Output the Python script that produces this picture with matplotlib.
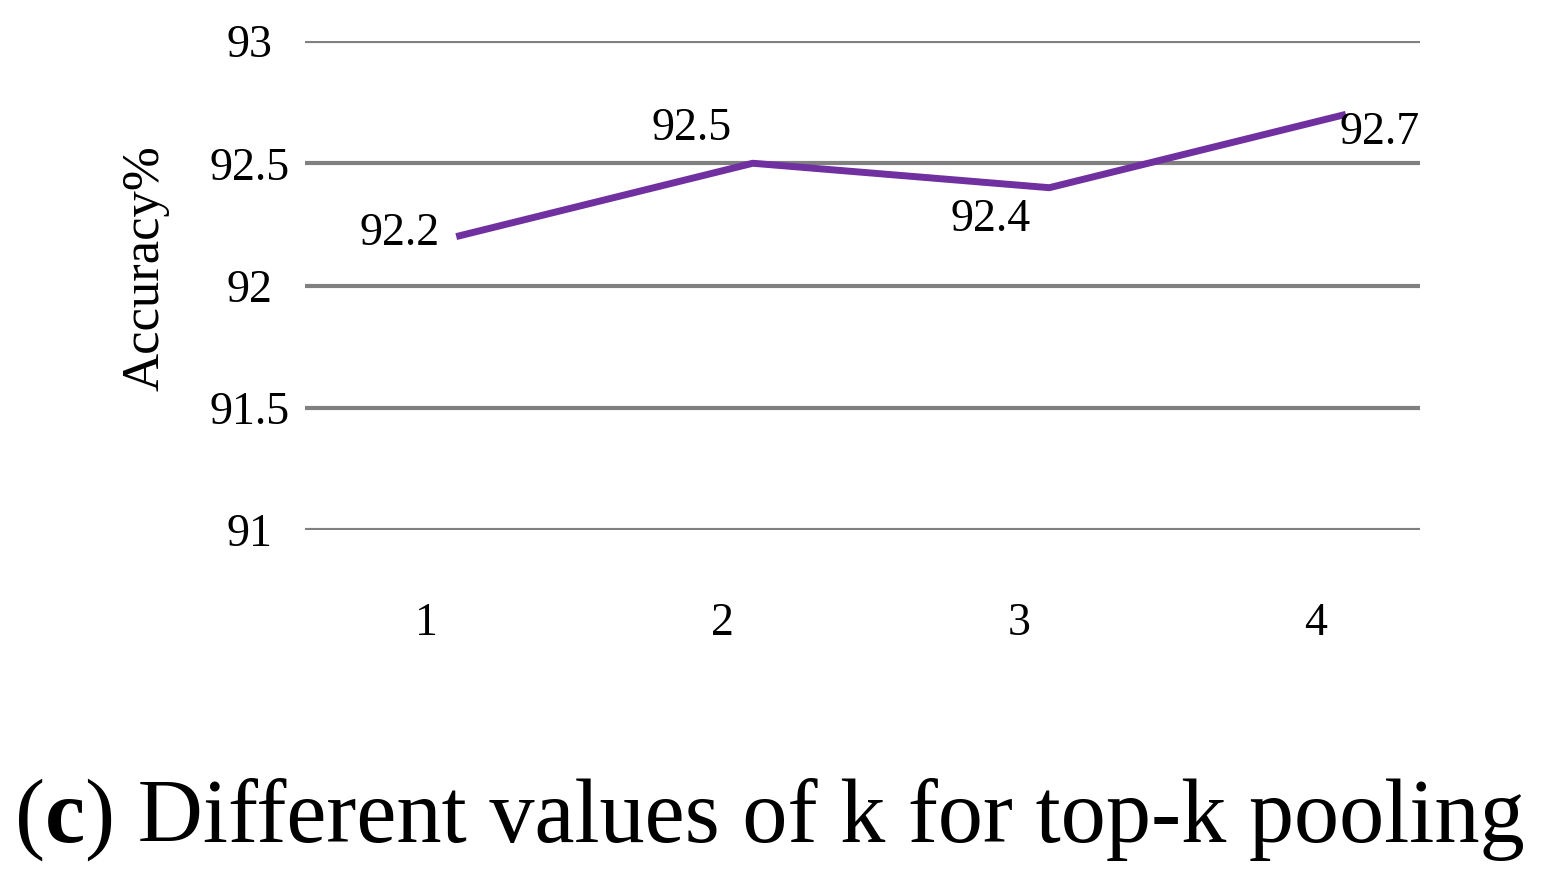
import matplotlib
matplotlib.use("Agg")
import matplotlib.pyplot as plt
import matplotlib.transforms as mtransforms

k_values = ["1", "2", "3", "4"]
accuracy = [92.2, 92.5, 92.4, 92.7]
y_ticks = [91, 91.5, 92, 92.5, 93]
y_tick_labels = ["91", "91.5", "92", "92.5", "93"]

plt.rcParams['font.family'] = ['Liberation Serif', 'DejaVu Serif']

fig = plt.figure(figsize=(15.5, 8.92), dpi=100)
ax = fig.add_axes([305 / 1550, 1 - 530 / 892, (1420 - 305) / 1550, (530 - 41) / 892])

x = list(range(len(k_values)))
ax.plot(x, accuracy, color='#7030A0', linewidth=5, solid_capstyle='butt', zorder=3)

ax.set_xlim(-0.51, 3.25)
ax.set_ylim(91, 93)
ax.set_yticks(y_ticks)
ax.set_yticklabels(y_tick_labels, fontsize=33)
ax.set_xticks(x)
ax.set_xticklabels(k_values, fontsize=33)
ax.tick_params(axis='y', length=0, pad=40)
ax.tick_params(axis='x', length=0, pad=52)
for lab in ax.get_yticklabels():
    lab.set_horizontalalignment('center')
shift = mtransforms.ScaledTranslation(-30 / 100, 0, fig.dpi_scale_trans)
for lab in ax.get_xticklabels():
    lab.set_transform(lab.get_transform() + shift)

ax.grid(axis='y', color='#808080', linewidth=3)
ax.set_axisbelow(True)
for s in ax.spines.values():
    s.set_visible(False)

# data labels, offsets in points
offsets = [(-12, 2, 'right'), (-44, 25, 'center'), (-42, -23, 'center'), (24, -13, 'center')]
for xi, yi, (dx, dy, ha) in zip(x, accuracy, offsets):
    ax.annotate(f"{yi}", (xi, yi), xytext=(dx, dy), textcoords='offset points',
                ha=ha, va='center', fontsize=33)

fig.text(145 / 1550, 1 - 268 / 892, "Accuracy%", rotation=90, ha='center', va='center', fontsize=38)

# caption with bold "c"
t1 = fig.text(15 / 1550, 1 - 842 / 892, "(", fontsize=65, va='baseline')
t2 = ax.annotate("c", xy=(1, 0), xycoords=t1, fontsize=65, fontweight='bold', va='bottom')
ax.annotate(") Different values of k for top-k pooling", xy=(1, 0), xycoords=t2,
            fontsize=65, va='bottom')

fig.savefig("out.png", dpi=100)
